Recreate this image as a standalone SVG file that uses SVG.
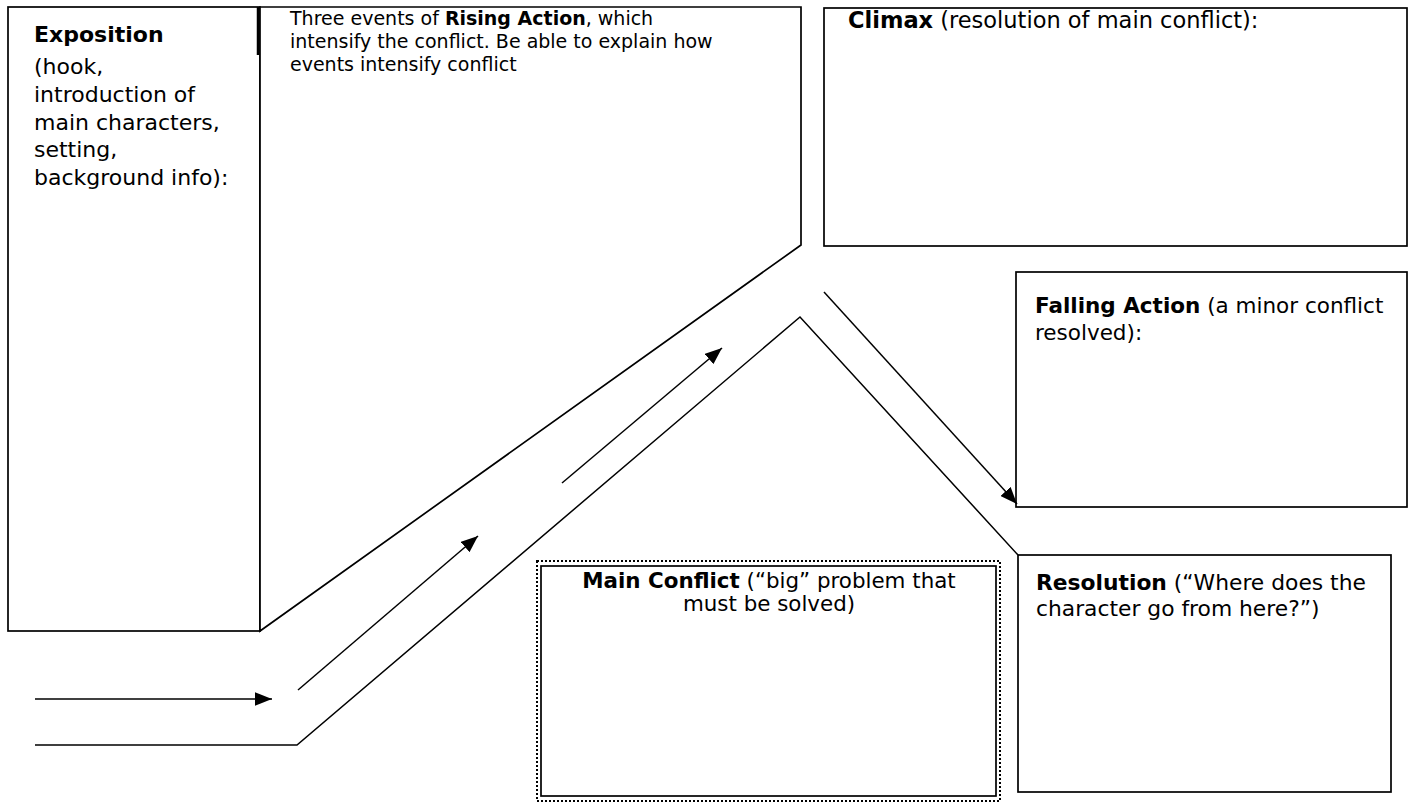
<svg xmlns="http://www.w3.org/2000/svg" width="1410" height="812" viewBox="0 0 1410 812">
<style>
.box{fill:#fff;stroke:#000;stroke-width:1.7}
.ln{fill:none;stroke:#000;stroke-width:1.5}
.t{font-family:"DejaVu Sans",Verdana,sans-serif;fill:#000}
.b{font-weight:bold}
</style>
<defs>
<marker id="arr" viewBox="0 0 10 8" markerWidth="17" markerHeight="14" refX="10" refY="4" orient="auto" markerUnits="userSpaceOnUse"><path d="M0,0 L10,4 L0,8 z" fill="#000"/></marker>
</defs>
<rect width="1410" height="812" fill="#fff"/>
<g id="exposition">
<rect class="box" x="8" y="7" width="252" height="624"/>
<text class="t" font-size="22"><tspan x="34" y="42" class="b">Exposition</tspan><tspan x="34" y="74">(hook,</tspan><tspan x="34" y="102">introduction of</tspan><tspan x="34" y="130">main characters,</tspan><tspan x="34" y="157">setting,</tspan><tspan x="34" y="185">background info):</tspan></text>
</g>
<g id="rising-action">
<path class="box" d="M260,7 L801,7 L801,245 L260,631 Z"/>
<line x1="258" y1="7" x2="258" y2="55" stroke="#000" stroke-width="2.5"/>
<text class="t" font-size="19"><tspan x="290" y="25">Three events of <tspan class="b">Rising Action</tspan>, which</tspan><tspan x="290" y="48">intensify the conflict. Be able to explain how</tspan><tspan x="290" y="71">events intensify conflict</tspan></text>
</g>
<g id="climax">
<rect class="box" x="824" y="8" width="583" height="238"/>
<text class="t" font-size="22.5" x="848" y="28"><tspan class="b">Climax</tspan> (resolution of main conflict):</text>
</g>
<g id="falling-action">
<rect class="box" x="1016" y="272" width="391" height="235"/>
<text class="t" font-size="21.5"><tspan x="1035" y="313"><tspan class="b">Falling Action</tspan> (a minor conflict</tspan><tspan x="1035" y="340">resolved):</tspan></text>
</g>
<g id="resolution">
<rect class="box" x="1018" y="555" width="373" height="237"/>
<text class="t" font-size="21.8"><tspan x="1036" y="590"><tspan class="b">Resolution</tspan> (“Where does the</tspan><tspan x="1036" y="616">character go from here?”)</tspan></text>
</g>
<g id="main-conflict">
<rect x="537" y="561" width="463" height="240" fill="#fff" stroke="#000" stroke-width="2" stroke-dasharray="2,2"/>
<rect class="box" x="541" y="566" width="455" height="230" stroke-width="1.2"/>
<text class="t" font-size="21.4" text-anchor="middle"><tspan x="769" y="588"><tspan class="b">Main Conflict</tspan> (“big” problem that</tspan><tspan x="769" y="611">must be solved)</tspan></text>
</g>
<g id="connectors">
<line class="ln" x1="35" y1="699" x2="272" y2="699" marker-end="url(#arr)"/>
<line class="ln" x1="298" y1="690" x2="478" y2="536" marker-end="url(#arr)"/>
<line class="ln" x1="562" y1="483" x2="722" y2="348" marker-end="url(#arr)"/>
<polyline class="ln" points="35,745 297,745 800,317 1018,555"/>
<line class="ln" x1="824" y1="292" x2="1017" y2="504" marker-end="url(#arr)"/>
</g>
</svg>
